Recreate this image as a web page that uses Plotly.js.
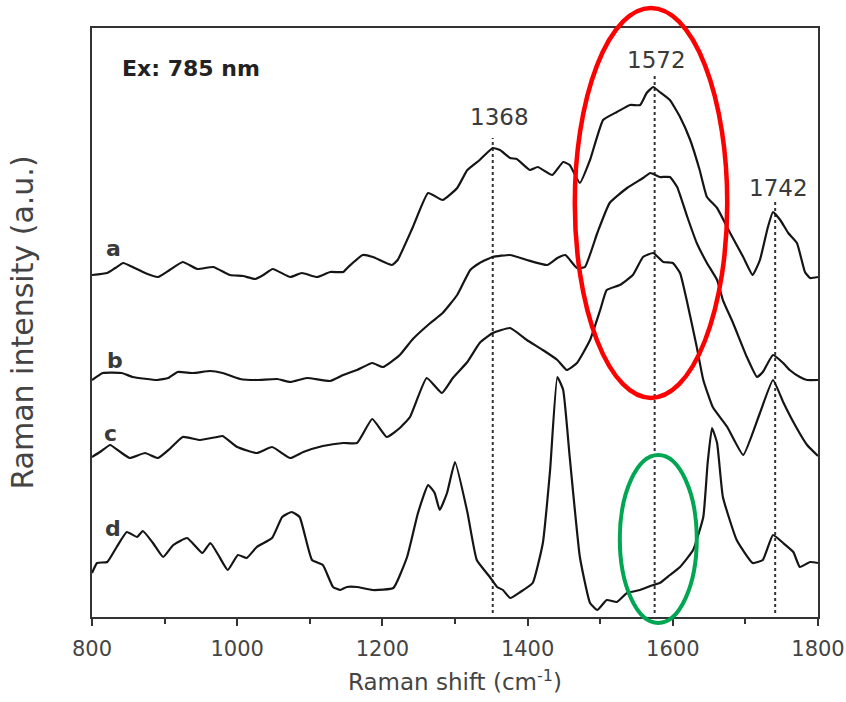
<!DOCTYPE html>
<html>
<head>
<meta charset="utf-8">
<script src="https://cdn.plot.ly/plotly-3.0.1.min.js"></script>
<style>html,body{margin:0;padding:0;background:#fff;}#chart{width:846px;height:702px;}</style>
</head>
<body>
<div id="chart"></div>
<script>
// Raman shift (cm^-1) and offset intensity (a.u.)
const xA = [800,821,832,843,856,873,891,907,925,945,967,990,1008,1025,1036,1049,1073,1089,1110,1128,1146,1153,1173,1187,1213,1221,1242,1263,1283,1303,1317,1334,1352,1362,1376,1385,1403,1414,1434,1449,1458,1472,1486,1504,1523,1541,1555,1564,1573,1582,1596,1610,1624,1637,1647,1661,1679,1697,1710,1720,1731,1738,1748,1759,1771,1782,1789,1800];
const yA = [342,344,349,354,350,344,340,347,355,348,350,342,341,338,342,348,340,344,340,345,345,350,362,360,352,357,390,424,417,429,447,457,469,467,459,458,447,450,442,455,452,434,457,497,505,512,512,524,530,525,517,500,477,447,420,409,384,360,342,357,390,405,397,384,374,345,339,340];

const xB = [800,815,841,856,890,905,918,939,963,980,1004,1027,1055,1073,1096,1128,1146,1165,1186,1201,1224,1242,1266,1283,1303,1321,1334,1352,1376,1399,1427,1441,1452,1468,1479,1496,1513,1537,1559,1569,1582,1596,1606,1620,1633,1647,1661,1669,1683,1702,1716,1724,1738,1752,1761,1775,1785,1800];
const yB = [237,244,244,240,237,239,245,244,246,244,238,237,238,235,239,236,242,247,254,250,262,278,294,304,322,347,354,360,362,357,352,359,362,349,350,384,414,429,439,444,440,440,430,400,374,354,337,317,294,260,240,245,262,254,247,240,237,237];

const xC = [800,811,825,839,852,873,891,907,925,949,972,980,1000,1027,1048,1073,1091,1118,1146,1165,1186,1206,1224,1238,1261,1282,1297,1317,1334,1352,1376,1399,1421,1441,1454,1468,1486,1500,1509,1527,1545,1559,1573,1587,1600,1610,1620,1633,1642,1655,1675,1697,1720,1738,1752,1766,1785,1800];
const yC = [160,165,172,165,159,164,159,168,180,177,180,181,170,164,170,159,165,171,174,174,198,180,189,200,239,224,239,255,274,284,289,277,267,257,247,254,277,307,327,332,342,360,364,355,354,344,314,270,237,210,190,162,204,237,215,195,172,161];

const xD = [800,807,821,834,848,862,870,884,898,912,931,952,963,974,987,1001,1013,1027,1048,1062,1075,1086,1103,1118,1132,1142,1151,1165,1187,1215,1234,1249,1263,1272,1279,1289,1300,1317,1330,1348,1358,1366,1376,1390,1407,1421,1431,1441,1449,1458,1472,1486,1496,1509,1523,1537,1555,1573,1582,1596,1610,1628,1642,1648,1654,1661,1669,1688,1710,1724,1738,1752,1766,1775,1789,1800];
const yD = [44,54,55,70,85,80,86,74,60,72,79,64,74,62,47,62,59,70,79,100,105,100,57,52,30,27,30,30,27,29,60,104,132,124,107,124,155,105,57,40,30,27,19,25,34,74,147,240,227,160,60,14,7,17,15,24,27,32,34,42,50,67,100,154,189,174,120,77,54,57,82,74,65,50,55,54];

const curveNames = ['a','b','c','d'];
const peakPositions = [1352, 1575, 1741];
const peakLabels = ['1368', '1572', '1742'];
const xTickVals = [800,1000,1200,1400,1600,1800];
const xTickText = ['800','1000','1200','1400','1600','1800'];

const lineStyle = {color:'#151515', width:2.2, shape:'spline', smoothing:0.4};
const traces = [[xA,yA],[xB,yB],[xC,yC],[xD,yD]].map((p,i)=>({
  x:p[0], y:p[1], type:'scatter', mode:'lines', name:curveNames[i], line:lineStyle, hoverinfo:'skip'
}));

const fam = 'DejaVu Sans, Arial, sans-serif';
const txtFont = {family:fam, color:'#3a3a3a'};
const peakTop = [479, 542, 415];
const peakLabelPos = [[1361,500],[1578,557],[1745,429]];
const curveLabelPos = [[829,369],[832,257],[826,184],[829,89]];

const shapes = peakPositions.map((x,i)=>({
  type:'line', xref:'x', yref:'y', x0:x, x1:x, y0:4, y1:peakTop[i],
  line:{color:'#333', width:2, dash:'dot'}, layer:'below'
}));
shapes.push({type:'circle', xref:'paper', yref:'paper', x0:0.665, x1:0.875, y0:0.372, y1:1.034,
  line:{color:'#ff0000', width:4.5}, layer:'above'});
shapes.push({type:'circle', xref:'paper', yref:'paper', x0:0.727, x1:0.833, y0:-0.010, y1:0.275,
  line:{color:'#00a651', width:4}, layer:'above'});

const annotations = [];
peakLabels.forEach((t,i)=>annotations.push({x:peakLabelPos[i][0], y:peakLabelPos[i][1], xref:'x', yref:'y',
  text:t, showarrow:false, font:Object.assign({size:23}, txtFont)}));
curveNames.forEach((t,i)=>annotations.push({x:curveLabelPos[i][0], y:curveLabelPos[i][1], xref:'x', yref:'y',
  text:'<b>'+t+'</b>', showarrow:false, font:Object.assign({size:22}, txtFont)}));
annotations.push({x:838, y:549, xref:'x', yref:'y', xanchor:'left', text:'<b>Ex: 785 nm</b>', showarrow:false,
  font:{family:fam, size:22, color:'#222'}});

const layout = {
  width:846, height:702,
  margin:{l:92, r:28, t:28, b:85},
  paper_bgcolor:'#fff', plot_bgcolor:'#fff',
  showlegend:false,
  xaxis:{range:[800,1800], tickvals:xTickVals, ticktext:xTickText, ticks:'outside', ticklen:7, tickwidth:2, tickcolor:'#333',
    minor:{dtick:100, tick0:800, ticks:'outside', ticklen:5, tickwidth:2, tickcolor:'#333'},
    showline:true, linecolor:'#333', linewidth:2, mirror:true, showgrid:false, zeroline:false,
    tickfont:{family:fam, size:21, color:'#444'}, ticklabelstandoff:5,
    title:{text:'Raman shift (cm<sup>-1</sup>)', font:{family:fam, size:23, color:'#444'}, standoff:14}},
  yaxis:{range:[0,589], showticklabels:false, ticks:'', showline:true, linecolor:'#333', linewidth:2, mirror:true,
    showgrid:false, zeroline:false,
    title:{text:'Raman intensity (a.u.)', font:{family:fam, size:30, color:'#444'}, standoff:48}},
  shapes:shapes, annotations:annotations
};
Plotly.newPlot('chart', traces, layout, {staticPlot:true, displayModeBar:false});
</script>
</body>
</html>
